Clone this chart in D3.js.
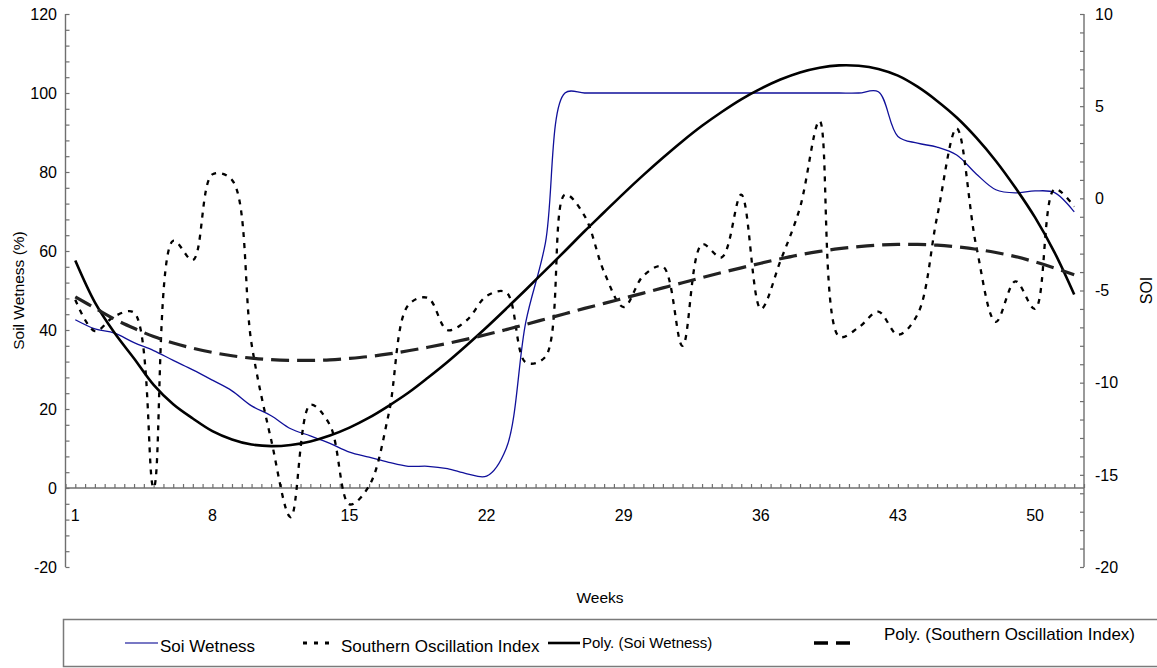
<!DOCTYPE html>
<html><head><meta charset="utf-8">
<script src="https://cdn.jsdelivr.net/npm/d3@7"></script>
<style>body{margin:0;background:#fff} svg{display:block} text{font-family:"Liberation Sans",Arial,sans-serif;fill:#000}</style>
</head><body><svg id="c" width="1157" height="668"></svg>
<script>
const weeks = [1,2,3,4,5,6,7,8,9,10,11,12,13,14,15,16,17,18,19,20,21,22,23,24,25,26,27,28,29,30,31,32,33,34,35,36,37,38,39,40,41,42,43,44,45,46,47,48,49,50,51,52];
const soilWetness = [42.6,40.3,39.2,36.8,34.8,32.3,29.9,27.3,24.6,20.8,18.3,15.0,13.2,11.3,9.1,7.8,6.5,5.5,5.5,4.9,3.6,3.0,10.0,42.0,62.0,100.0,100,100,100,100,100,100,100,100,100,100,100,100,100,100,100,100.3,89.0,87.3,86.3,84.3,79.5,75.5,74.7,75.2,74.8,69.9];
const soi = [-5.5,-7.2,-6.4,-6.2,-15.7,-2.3,-3.35,1.3,1.0,-7.9,-13.1,-17.3,-11.2,-12.3,-16.6,-15.6,-11.7,-5.8,-5.4,-7.15,-6.6,-5.3,-5.1,-8.9,-8.6,0.2,-0.95,-4.0,-5.9,-4.2,-3.7,-8.0,-2.5,-3.2,0.2,-6.0,-3.4,-0.5,4.2,-7.5,-7.0,-6.15,-7.4,-6.3,-1.0,3.8,-2.6,-6.7,-4.5,-6.0,0.5,-0.45];
const soilPoly = [57.6,47.0,39.3,32.8,26.1,21.2,17.6,14.4,12.3,11.0,10.6,10.9,11.8,13.3,15.3,17.8,20.8,24.1,27.9,31.9,36.2,40.7,45.4,50.2,55.1,60.0,65.0,69.8,74.6,79.2,83.6,87.8,91.7,95.2,98.4,101.1,103.4,105.2,106.4,107.0,106.9,106.1,104.4,101.6,98.0,93.8,88.7,82.8,76.0,68.5,59.6,49.0];
const soiPoly = [-5.35,-5.95,-6.55,-7.05,-7.5,-7.85,-8.13,-8.36,-8.54,-8.67,-8.75,-8.79,-8.79,-8.76,-8.68,-8.58,-8.44,-8.27,-8.08,-7.87,-7.64,-7.39,-7.12,-6.84,-6.55,-6.26,-5.97,-5.7,-5.42,-5.14,-4.86,-4.58,-4.3,-4.03,-3.77,-3.52,-3.28,-3.06,-2.88,-2.73,-2.62,-2.54,-2.5,-2.5,-2.54,-2.63,-2.76,-2.94,-3.16,-3.45,-3.78,-4.15];
const xTickLabels = [1,8,15,22,29,36,43,50];
const leftTickLabels = [-20,0,20,40,60,80,100,120];
const rightTickLabels = [-20,-15,-10,-5,0,5,10];

const svg = d3.select("#c");
const L = 65.5, R = 1084, T = 14, B = 567;
const x = d3.scalePoint().domain(weeks).range([L, R]).padding(0.5);
const xl = d3.scaleLinear().domain([0.5, 52.5]).range([L, R]);
const yL = d3.scaleLinear().domain([-20, 120]).range([B, T]);
const yR = d3.scaleLinear().domain([-20, 10]).range([B, T]);
const axisCol = "#6f6f6f";

// left axis (ticks inside)
const gL = svg.append("g").attr("transform", `translate(${L},0)`)
  .call(d3.axisRight(yL).tickValues(d3.range(-20, 121, 4)).tickSize(4).tickFormat(""));
gL.select(".domain").attr("stroke", axisCol).attr("stroke-width", 1.4).attr("d", `M0,${B}V${T}`);
gL.selectAll(".tick line").attr("stroke", axisCol).attr("stroke-width", 1.2);
svg.append("g").selectAll("text").data(leftTickLabels).join("text")
  .attr("x", 57).attr("y", d => yL(d)).attr("dy", "0.36em").attr("text-anchor", "end")
  .attr("font-size", 16).text(d => d);

// right axis (ticks inside)
const gR = svg.append("g").attr("transform", `translate(${R},0)`)
  .call(d3.axisLeft(yR).tickValues(d3.range(-20, 11, 1)).tickSize(4).tickFormat(""));
gR.select(".domain").attr("stroke", axisCol).attr("stroke-width", 1.4).attr("d", `M0,${B}V${T}`);
gR.selectAll(".tick line").attr("stroke", axisCol).attr("stroke-width", 1.2);
svg.append("g").selectAll("text").data(rightTickLabels).join("text")
  .attr("x", 1095).attr("y", d => yR(d)).attr("dy", "0.36em").attr("text-anchor", "start")
  .attr("font-size", 16).text(d => d);

// x axis at zero
const gX = svg.append("g").attr("transform", `translate(0,${yL(0)})`)
  .call(d3.axisTop(xl).tickValues(d3.range(0.5, 52.6, 0.5)).tickSize(4).tickFormat(""));
gX.select(".domain").attr("stroke", axisCol).attr("stroke-width", 1.4).attr("d", `M${L},0H${R}`);
gX.selectAll(".tick line").attr("stroke", axisCol).attr("stroke-width", 1.2);
svg.append("g").selectAll("text").data(xTickLabels).join("text")
  .attr("x", d => x(d)).attr("y", 515).attr("dy", "0.36em").attr("text-anchor", "middle")
  .attr("font-size", 16).text(d => d);

// titles
svg.append("text").attr("transform", `translate(24,${(T + B) / 2}) rotate(-90)`)
  .attr("text-anchor", "middle").attr("font-size", 15.5).text("Soil Wetness (%)");
svg.append("text").attr("transform", `translate(1152,${(T + B) / 2}) rotate(-90)`)
  .attr("text-anchor", "middle").attr("font-size", 16).text("SOI");
svg.append("text").attr("x", 600).attr("y", 597).attr("dy", "0.36em")
  .attr("text-anchor", "middle").attr("font-size", 15.5).text("Weeks");

// series
const lineL = d3.line().x((d, i) => x(weeks[i])).y(d => yL(d)).curve(d3.curveCatmullRom.alpha(0.5));
const lineR = d3.line().x((d, i) => x(weeks[i])).y(d => yR(d)).curve(d3.curveCatmullRom.alpha(0.5));

svg.append("path").datum(soilWetness).attr("d", lineL).attr("fill", "none")
  .attr("stroke", "#10109a").attr("stroke-width", 1.3);
svg.append("path").datum(soi).attr("d", lineR).attr("fill", "none")
  .attr("stroke", "#000").attr("stroke-width", 2.3).attr("stroke-dasharray", "5,6");
svg.append("path").datum(soilPoly).attr("d", lineL).attr("fill", "none")
  .attr("stroke", "#000").attr("stroke-width", 2.6);
svg.append("path").datum(soiPoly).attr("d", lineR).attr("fill", "none")
  .attr("stroke", "#222").attr("stroke-width", 3.2).attr("stroke-dasharray", "18,8");

// legend
const lg = svg.append("g");
lg.append("rect").attr("x", 63.5).attr("y", 619.5).attr("width", 1120).attr("height", 47)
  .attr("fill", "#fff").attr("stroke", "#7a7a7a").attr("stroke-width", 1.5);
const ly = 643;
lg.append("line").attr("x1", 125).attr("x2", 158).attr("y1", ly).attr("y2", ly)
  .attr("stroke", "#4b4bb0").attr("stroke-width", 1.5);
lg.append("text").attr("x", 160).attr("y", ly + 3).attr("dy", "0.36em").attr("font-size", 17).text("Soi Wetness");
lg.append("line").attr("x1", 303).attr("x2", 336).attr("y1", ly).attr("y2", ly)
  .attr("stroke", "#000").attr("stroke-width", 3.2).attr("stroke-dasharray", "4,7");
lg.append("text").attr("x", 341).attr("y", ly + 3).attr("dy", "0.36em").attr("font-size", 17).text("Southern Oscillation Index");
lg.append("line").attr("x1", 548).attr("x2", 580).attr("y1", ly).attr("y2", ly)
  .attr("stroke", "#000").attr("stroke-width", 2.6);
lg.append("text").attr("x", 582).attr("y", ly).attr("dy", "0.36em").attr("font-size", 15).text("Poly. (Soi Wetness)");
lg.append("line").attr("x1", 814).attr("x2", 853).attr("y1", ly).attr("y2", ly)
  .attr("stroke", "#000").attr("stroke-width", 3.5).attr("stroke-dasharray", "14,8");
lg.append("text").attr("x", 884).attr("y", ly - 9).attr("dy", "0.36em").attr("font-size", 17).text("Poly. (Southern Oscillation Index)");
</script></body></html>
